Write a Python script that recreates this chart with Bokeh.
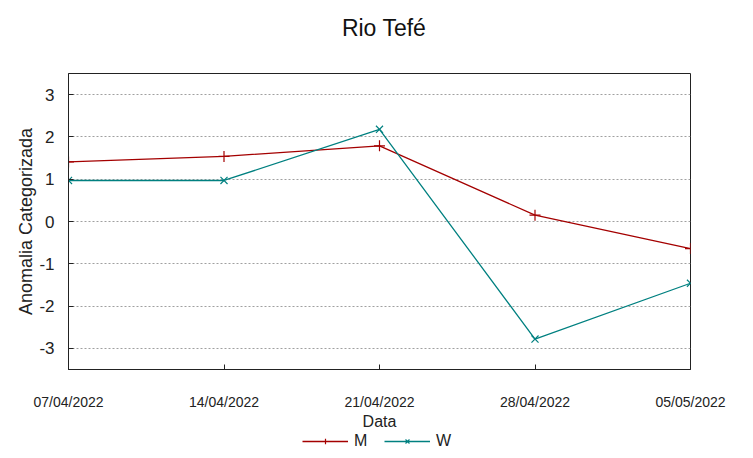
import pandas as pd
from bokeh.plotting import figure
from bokeh.layouts import column
from bokeh.models import FixedTicker, Legend, LegendItem, Range1d, Label
from bokeh.embed import file_html
from bokeh.resources import INLINE

# ---- data ----
dates = ["07/04/2022", "14/04/2022", "21/04/2022", "28/04/2022", "05/05/2022"]
m_values = [1.41, 1.54, 1.79, 0.15, -0.64]
w_values = [0.97, 0.97, 2.18, -2.78, -1.46]
y_ticks = [-3, -2, -1, 0, 1, 2, 3]
title_text = "Rio Tefé"
x_label = "Data"
y_label = "Anomalia Categorizada"
series_names = ["M", "W"]

d = pd.to_datetime(dates, format="%d/%m/%Y")
x = [int((di - d[0]).days) for di in d]

FONT = "Liberation Sans"
RED = "#a40000"
TEAL = "#008080"
W_FIG = 745
TITLE_H = 46

# ---- title strip ----
tf = figure(width=W_FIG, height=TITLE_H, output_backend="svg", toolbar_location=None,
            min_border=0, x_range=Range1d(0, W_FIG), y_range=Range1d(0, TITLE_H))
tf.axis.visible = False
tf.grid.visible = False
tf.outline_line_color = None
tf.add_layout(Label(x=378, y=TITLE_H - 27, text=title_text, text_align="center",
                    text_baseline="middle", text_font=FONT, text_font_size="23px",
                    text_color="#111111"))

# ---- main chart ----
p = figure(width=W_FIG, height=432 - TITLE_H, output_backend="svg", toolbar_location=None,
           x_range=Range1d(x[0], x[-1]), y_range=Range1d(-3.5, 3.5),
           min_border_left=68, min_border_right=55, min_border_top=73 - TITLE_H,
           min_border_bottom=63, x_axis_label=x_label, y_axis_label=y_label)
p.title.visible = False

p.outline_line_color = "#222222"
p.outline_line_width = 1
p.background_fill_color = "white"
p.border_fill_color = "white"

p.xgrid.visible = False
p.ygrid.ticker = FixedTicker(ticks=y_ticks)
p.ygrid.grid_line_color = "#a0a0a0"
p.ygrid.grid_line_dash = "2 2"
p.ygrid.grid_line_width = 1

xt = FixedTicker(ticks=x)
yt = FixedTicker(ticks=y_ticks)

xa = p.xaxis[0]
xa.ticker = xt
xa.major_label_overrides = {xi: lab for xi, lab in zip(x, dates)}
xa.major_label_text_font = FONT
xa.major_label_text_font_size = "14px"
xa.major_label_text_color = "#222222"
xa.major_label_standoff = 24
xa.axis_label_text_font = FONT
xa.axis_label_text_font_size = "16px"
xa.axis_label_text_font_style = "normal"
xa.axis_label_text_color = "#222222"
xa.axis_label_standoff = 0

ya = p.yaxis[0]
ya.ticker = yt
ya.major_label_overrides = {t: str(t) for t in y_ticks}
ya.major_label_text_font = FONT
ya.major_label_text_font_size = "17px"
ya.major_label_text_color = "#222222"
ya.major_label_standoff = 14
ya.axis_label_text_font = FONT
ya.axis_label_text_font_size = "18px"
ya.axis_label_text_font_style = "normal"
ya.axis_label_text_color = "#222222"
ya.axis_label_standoff = 0

for ax in (xa, ya):
    ax.axis_line_color = "#222222"
    ax.major_tick_in = 5
    ax.major_tick_out = 0
    ax.major_tick_line_color = "#222222"
    ax.minor_tick_line_color = None

line_style = dict(line_width=1.3)
p.line(x, m_values, line_color=RED, **line_style)
p.scatter(x, m_values, marker="cross", size=11, line_color=RED, line_width=1.2)
p.line(x, w_values, line_color=TEAL, **line_style)
p.scatter(x, w_values, marker="x", size=10, line_color=TEAL, line_width=1.2)

# ---- legend strip below the chart (series drawn off-view, only keys show) ----
lf = figure(width=W_FIG, height=18, output_backend="svg", toolbar_location=None,
            min_border=0, x_range=Range1d(-200, -199), y_range=Range1d(-200, -199))
lf.axis.visible = False
lf.grid.visible = False
lf.outline_line_color = None
lm = lf.line(x, m_values, line_color=RED, **line_style)
sm = lf.scatter(x, m_values, marker="cross", size=11, line_color=RED, line_width=1.2)
lw = lf.line(x, w_values, line_color=TEAL, **line_style)
sw = lf.scatter(x, w_values, marker="x", size=10, line_color=TEAL, line_width=1.2)
legend = Legend(items=[LegendItem(label=series_names[0], renderers=[lm, sm]),
                       LegendItem(label=series_names[1], renderers=[lw, sw])],
                orientation="horizontal", location="center",
                label_text_font=FONT, label_text_font_size="16px",
                label_text_color="#222222", glyph_width=46, glyph_height=14,
                spacing=10, padding=0, margin=0, border_line_color=None,
                background_fill_alpha=0, label_standoff=6,
                label_height=16)
lf.add_layout(legend, "center")

open("out.html", "w").write(file_html(column(tf, p, lf), INLINE))
